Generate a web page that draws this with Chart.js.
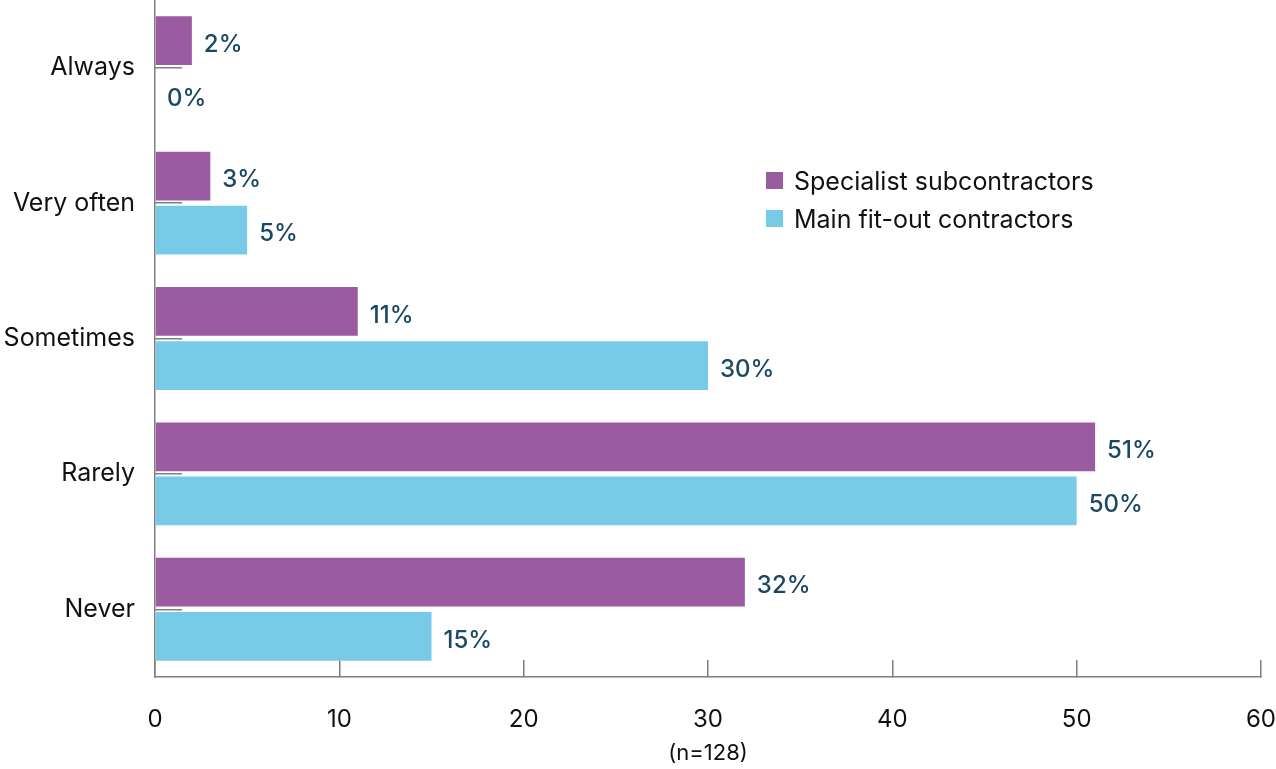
<!DOCTYPE html>
<html><head><meta charset="utf-8">
<script src="https://cdn.jsdelivr.net/npm/chart.js@4.4.1/dist/chart.umd.min.js"></script>
<style>html,body{margin:0;padding:0;background:#fff}canvas{display:block}</style>
</head><body>
<canvas id="c" width="1276" height="769"></canvas>
<script>
const categories = ["Always", "Very often", "Sometimes", "Rarely", "Never"];
const specialistValues = [2, 3, 11, 51, 32];
const mainValues = [0, 5, 30, 50, 15];
const seriesLabels = ["Specialist subcontractors", "Main fit-out contractors"];
const xTicks = [0, 10, 20, 30, 40, 50, 60];
const axisTitle = "(n=128)";

const FONT = "Inter, 'Open Sans', sans-serif";
const PURPLE = "#9B5BA0";
const CYAN = "#78CBE7";
const AXIS = "#7f7f7f";
const LABEL_COLOR = "#1b4862";

const valueLabels = {
  id: 'valueLabels',
  afterDatasetsDraw(chart) {
    const ctx = chart.ctx;
    ctx.save();
    ctx.font = "500 24px " + FONT;
    ctx.fillStyle = LABEL_COLOR;
    ctx.textAlign = 'left';
    ctx.textBaseline = 'middle';
    chart.data.datasets.forEach((ds, di) => {
      chart.getDatasetMeta(di).data.forEach((bar, i) => {
        ctx.fillText(ds.data[i] + '%', bar.x + 12, bar.y + 4);
      });
    });
    ctx.restore();
  }
};

const customLegend = {
  id: 'customLegend',
  afterDraw(chart) {
    const ctx = chart.ctx;
    ctx.save();
    ctx.font = "25px " + FONT;
    ctx.textBaseline = 'middle';
    ctx.textAlign = 'left';
    chart.data.datasets.forEach((ds, i) => {
      const y = 181 + i * 38;
      ctx.fillStyle = ds.backgroundColor;
      ctx.fillRect(766, y - 9, 17, 17);
      ctx.fillStyle = '#111';
      ctx.fillText(ds.label, 794, y + 1);
    });
    ctx.restore();
  }
};

new Chart(document.getElementById('c'), {
  type: 'bar',
  data: {
    labels: categories,
    datasets: [
      { label: seriesLabels[0], data: specialistValues, backgroundColor: PURPLE },
      { label: seriesLabels[1], data: mainValues, backgroundColor: CYAN }
    ]
  },
  options: {
    responsive: false,
    animation: false,
    indexAxis: 'y',
    layout: { padding: { top: 0, right: 15, left: 0, bottom: 0 } },
    plugins: { legend: { display: false }, tooltip: { enabled: false } },
    scales: {
      x: {
        min: 0, max: 60,
        afterBuildTicks(scale) { scale.ticks = xTicks.map(v => ({ value: v })); },
        afterFit(scale) { scale.height = 92; scale.paddingLeft = 0; scale.paddingRight = 0; },
        grid: { drawOnChartArea: false, drawTicks: true, tickLength: -17, color: AXIS, lineWidth: 1.5 },
        border: { display: true, color: AXIS, width: 1.5 },
        ticks: { color: '#111', font: { family: FONT, size: 24 }, padding: 45 },
        title: { display: true, text: axisTitle, color: '#111', font: { family: FONT, size: 22 }, padding: { top: 0, bottom: 2 } }
      },
      y: {
        afterFit(scale) { scale.width = 155; scale.paddingTop = 0; scale.paddingBottom = 0; },
        grid: { drawOnChartArea: false, drawTicks: true, tickLength: -27, offset: false, color: AXIS, lineWidth: 1.5 },
        border: { display: true, color: AXIS, width: 1.5 },
        ticks: { color: '#111', font: { family: FONT, size: 25 }, padding: 47 }
      }
    }
  },
  plugins: [valueLabels, customLegend]
});
</script>
</body></html>
